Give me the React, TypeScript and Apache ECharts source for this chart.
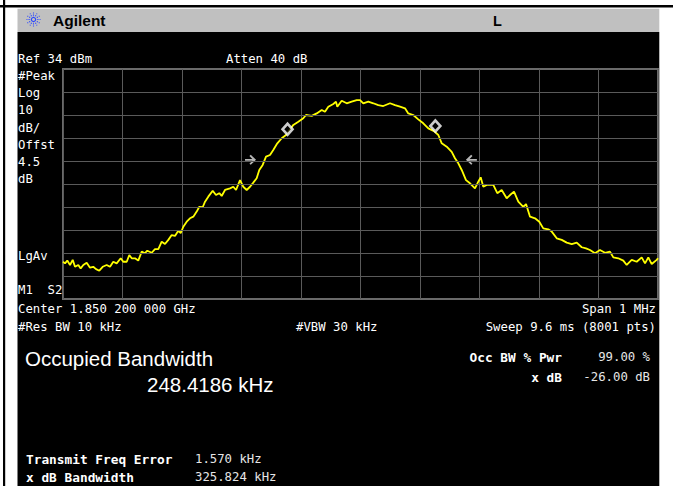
import React, { useEffect, useRef } from "react";
import * as echarts from "echarts";

const freqKHz = [
  -500, -496.6, -492.8, -488.2, -483.7, -479.8, -474.3, -470.3, -465.9, -460.2,
  -454.6, -449.1, -444.5, -439.0, -433.3, -426.6, -421.0, -415.5, -409.8, -403.0,
  -398.7, -392.9, -388.6, -384.5, -379.0, -373.5, -367.7, -362.2, -358.3, -350.9,
  -345.4, -339.8, -334.1, -328.6, -323.0, -317.3, -311.8, -306.2, -302.2, -297.8,
  -292.1, -286.6, -281.0, -275.3, -270.9, -265.2, -261.3, -255.8, -248.4, -242.9,
  -237.3, -233.3, -227.7, -219.3, -213.8, -209.2, -202.5, -197.0, -191.3, -185.7,
  -180.2, -174.5, -170.1, -164.4, -158.8, -152.1, -146.6, -139.8, -132.4, -125.2,
  -112.9, -104.5, -96.1, -91.6, -82.0, -73.6, -65.2, -59.7, -54.1, -45.7,
  -41.2, -39.0, -31.6, -23.2, -14.8, -6.4, -0.8, 4.7, 13.1, 21.5,
  29.9, 38.3, 49.6, 58.0, 66.4, 74.8, 80.3, 88.7, 97.1, 105.5,
  114.0, 123.5, 130.8, 136.5, 144.9, 153.3, 158.8, 164.4, 170.1, 177.3,
  184.0, 192.4, 198.0, 202.0, 206.4, 212.1, 223.2, 229.9, 237.3, 245.7,
  251.3, 258.0, 265.2, 273.6, 278.2, 284.9, 293.3, 300.5, 307.2, 315.6,
  321.4, 329.8, 338.2, 346.6, 355.0, 363.4, 371.8, 379.0, 385.7, 394.1,
  402.5, 410.9, 419.3, 424.9, 433.3, 441.7, 447.4, 455.8, 464.2, 472.6,
  478.2, 483.7, 489.4, 497.8, 500,
];
const levelDbm = [
  -49.8, -50.5, -49.3, -51.2, -49.0, -52.0, -51.2, -52.7, -51.2, -50.2,
  -52.4, -52.0, -53.0, -53.7, -52.0, -51.2, -52.0, -49.8, -50.5, -48.3,
  -49.8, -49.8, -46.9, -48.3, -48.3, -49.3, -45.4, -46.1, -45.0, -45.9,
  -44.3, -44.3, -41.1, -42.1, -40.3, -38.2, -38.6, -36.3, -37.4, -34.6,
  -32.4, -30.9, -30.2, -28.0, -25.9, -26.1, -23.7, -21.5, -18.9, -20.8,
  -20.0, -21.2, -18.6, -17.9, -17.2, -18.6, -14.3, -17.2, -18.6, -17.2,
  -15.4, -13.5, -9.9, -7.7, -4.1, -3.4, -1.2, 1.7, 3.9, 5.3,
  9.7, 11.1, 12.6, 14.0, 13.6, 14.7, 16.2, 15.4, 17.6, 18.8,
  19.8, 17.6, 20.2, 19.1, 19.8, 20.5, 20.5, 19.1, 19.8, 19.1,
  18.3, 17.9, 19.1, 18.3, 17.6, 16.9, 14.7, 14.0, 12.1, 10.4,
  8.2, 7.0, 5.3, 1.7, 0.2, -2.0, -4.8, -7.0, -9.9, -14.3,
  -15.7, -17.9, -15.0, -13.1, -17.2, -16.4, -16.4, -20.0, -18.6, -22.2,
  -20.8, -19.3, -23.7, -25.9, -24.7, -30.2, -30.9, -32.4, -35.3, -35.7,
  -36.7, -39.6, -40.3, -41.5, -42.1, -41.5, -43.5, -44.0, -44.7, -46.1,
  -44.7, -45.9, -45.4, -47.9, -48.3, -49.3, -51.2, -49.0, -49.8, -47.9,
  -50.5, -47.9, -50.8, -49.0, -48.3,
];

// Markers
const occBwEdgesKHz = [-122.6, 125.8];
const occBwMarkerDbm = [7.8, 9.2];
const xdbEdgesKHz = [-161.3, 164.5];
const xdbLevelDbm = -5.5;

// Axes / graticule
const spanKHz = [-500, 500];
const freqDivKHz = 100;
const refLevelDbm = 34;
const bottomLevelDbm = -66;
const hGridDbm = [-56, -46, -36, -26, -16, -6, 4, 14, 24];

// Screen annotations
const leftLabels = ["#Peak", "Log", "10", "dB/", "Offst", "4.5", "dB"];
const leftLabelY = [76, 93, 110, 128, 145, 162, 179];

const MONO = "'DejaVu Sans Mono', 'Liberation Mono', monospace";
const SANS = "'Liberation Sans', Arial, sans-serif";

const ARROW_R = "path://M0,4.1L6.6,4.1L4,1.2L5.2,0L10,5L5.2,10L4,8.8L6.6,5.9L0,5.9Z";
const ARROW_L = "path://M10,4.1L3.4,4.1L6,1.2L4.8,0L0,5L4.8,10L6,8.8L3.4,5.9L10,5.9Z";

function txt(text: string, x: number, y: number, opts: any = {}) {
  return {
    type: "text",
    z: 10,
    silent: true,
    style: {
      text,
      x,
      y,
      fill: opts.fill || "#ffffff",
      fontFamily: opts.family || MONO,
      fontSize: opts.size || 12.3,
      fontWeight: opts.weight || "normal",
      align: opts.align || "left",
      verticalAlign: "middle",
    },
  };
}

export default function App() {
  const ref = useRef<HTMLDivElement>(null);

  useEffect(() => {
    if (!ref.current) return;
    const chart = echarts.init(ref.current, undefined, { renderer: "svg" });

    const trace = freqKHz.map((f, i) => [f, levelDbm[i]]);

    // Agilent spark logo
    const logo: any[] = [];
    const cx = 33.5, cy = 19.5;
    for (let k = 0; k < 12; k++) {
      const a = (k * Math.PI) / 6;
      logo.push({
        type: "line",
        z: 10,
        silent: true,
        shape: { x1: cx + Math.cos(a) * 1.5, y1: cy + Math.sin(a) * 1.5, x2: cx + Math.cos(a) * 7, y2: cy + Math.sin(a) * 7 },
        style: { stroke: "#2a46ff", lineWidth: 1.1, lineDash: [1.2, 1.1] },
      });
    }

    const graphics: any[] = [
      { type: "rect", z: -5, silent: true, shape: { x: 0, y: 5, width: 673, height: 2.5 }, style: { fill: "#000" } },
      { type: "rect", z: -5, silent: true, shape: { x: 3, y: 0, width: 2.2, height: 486 }, style: { fill: "#000" } },
      { type: "rect", z: -5, silent: true, shape: { x: 17.5, y: 8.7, width: 641.8, height: 23.3 }, style: { fill: "#c0c0c0" } },
      { type: "rect", z: -5, silent: true, shape: { x: 17.5, y: 32, width: 641.8, height: 454 }, style: { fill: "#000" } },
      ...logo,
      txt("Agilent", 53, 20.5, { family: SANS, size: 15.5, weight: "bold", fill: "#000" }),
      txt("L", 493, 20.5, { family: SANS, size: 14.5, weight: "bold", fill: "#000" }),
      txt("Ref 34 dBm", 18, 59),
      txt("Atten 40 dB", 226, 59),
      ...leftLabels.map((t, i) => txt(t, 18, leftLabelY[i])),
      txt("LgAv", 18, 256),
      txt("M1  S2", 18, 289.5),
      txt("Center 1.850 200 000 GHz", 18, 309),
      txt("Span 1 MHz", 656, 309, { align: "right" }),
      txt("#Res BW 10 kHz", 18, 327),
      txt("#VBW 30 kHz", 296, 327),
      txt("Sweep 9.6 ms (8001 pts)", 656, 327, { align: "right" }),
      txt("Occupied Bandwidth", 25, 358, { family: SANS, size: 20.5 }),
      txt("248.4186 kHz", 147, 384, { family: SANS, size: 20.5 }),
      txt("Occ BW % Pwr", 562, 357, { weight: "bold", size: 12.8, align: "right" }),
      txt("99.00 %", 650, 357, { align: "right", fill: "#e6e6e6" }),
      txt("x dB", 562, 377, { weight: "bold", size: 12.8, align: "right" }),
      txt("-26.00 dB", 650, 377, { align: "right", fill: "#e6e6e6" }),
      txt("Transmit Freq Error", 26, 459, { weight: "bold", size: 12.8 }),
      txt("1.570 kHz", 195, 459, { fill: "#e6e6e6" }),
      txt("x dB Bandwidth", 26, 477, { weight: "bold", size: 12.8 }),
      txt("325.824 kHz", 195, 477, { fill: "#e6e6e6" }),
    ];

    chart.setOption({
      animation: false,
      backgroundColor: "transparent",
      grid: {
        left: 63,
        right: 15,
        top: 69,
        bottom: 187,
        show: true,
        borderColor: "#6a6a6a",
        borderWidth: 2,
        backgroundColor: "transparent",
        z: 0,
      },
      xAxis: {
        type: "value",
        min: spanKHz[0],
        max: spanKHz[1],
        interval: freqDivKHz,
        axisLine: { show: false },
        axisTick: { show: false },
        axisLabel: { show: false },
        splitLine: { show: true, lineStyle: { color: "#5a5a5a", width: 1 } },
      },
      yAxis: {
        type: "value",
        min: bottomLevelDbm,
        max: refLevelDbm,
        axisLine: { show: false },
        axisTick: { show: false },
        axisLabel: { show: false },
        splitLine: { show: false },
      },
      graphic: graphics,
      series: [
        {
          type: "line",
          data: [],
          z: 1,
          silent: true,
          markLine: {
            silent: true,
            symbol: ["none", "none"],
            label: { show: false },
            lineStyle: { color: "#5a5a5a", width: 1, type: "solid" },
            data: hGridDbm.map((v) => ({ yAxis: v })),
          },
        },
        {
          type: "line",
          data: trace,
          z: 3,
          silent: true,
          showSymbol: false,
          lineStyle: { color: "#ffff00", width: 1.8 },
        },
        {
          type: "scatter",
          z: 4,
          silent: true,
          data: occBwEdgesKHz.map((f, i) => [f, occBwMarkerDbm[i]]),
          symbol: "diamond",
          symbolSize: [10, 11],
          itemStyle: { color: "#000", borderColor: "#ffffff", borderWidth: 2.6 },
        },
        {
          type: "scatter",
          z: 4,
          silent: true,
          data: [
            { value: [xdbEdgesKHz[0], xdbLevelDbm], symbol: ARROW_R, symbolOffset: [-14, 0] },
            { value: [xdbEdgesKHz[1], xdbLevelDbm], symbol: ARROW_L, symbolOffset: [13, 0] },
          ],
          symbolSize: [11, 10],
          itemStyle: { color: "#e4e4e4", borderWidth: 0 },
        },
      ],
    });

    return () => chart.dispose();
  }, []);

  return (
    <div
      ref={ref}
      style={{ position: "absolute", left: 0, top: 0, width: 673, height: 486 }}
    />
  );
}
